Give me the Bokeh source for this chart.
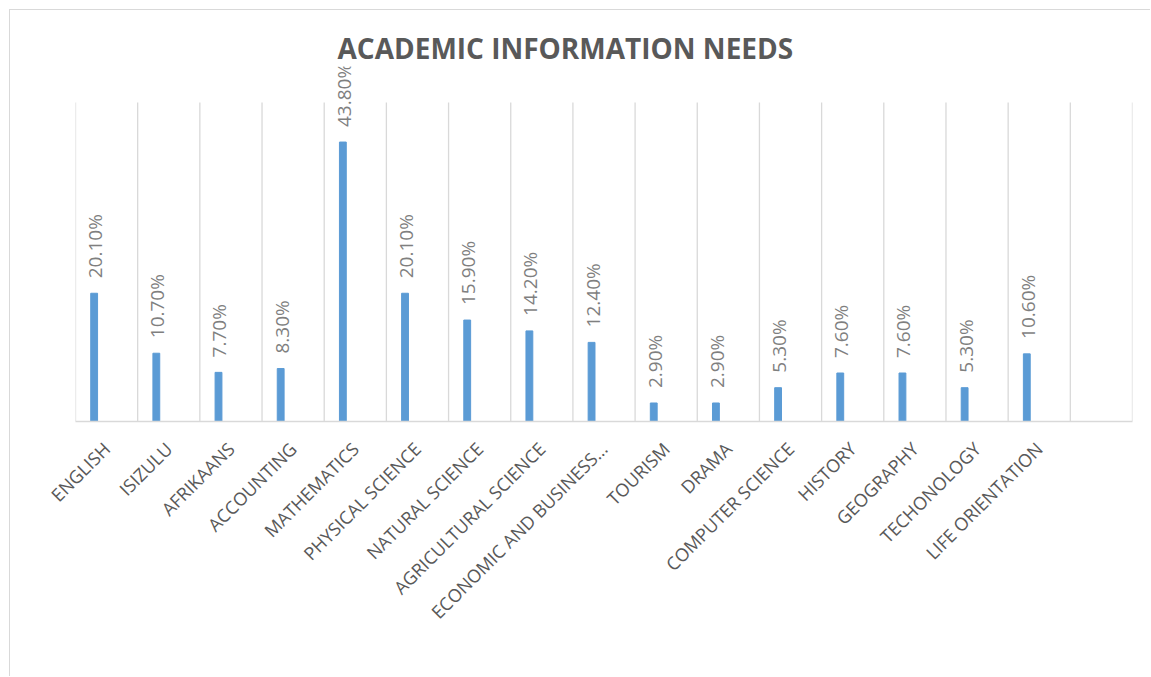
import math
from bokeh.plotting import figure
from bokeh.models import Range1d, FixedTicker, ColumnDataSource, LabelSet, Title
from bokeh.core.properties import value
from bokeh.embed import file_html
from bokeh.resources import INLINE

# ---- data ----
categories = ["English", "Isizulu", "Afrikaans", "Accounting", "Mathematics",
              "Physical Science", "Natural Science", "Agricultural Science",
              "Economic and Business...", "Tourism", "Drama", "Computer Science",
              "History", "Geography", "Techonology", "Life Orientation"]
values = [20.1, 10.7, 7.7, 8.3, 43.8, 20.1, 15.9, 14.2, 12.4, 2.9, 2.9, 5.3,
          7.6, 7.6, 5.3, 10.6]
title_text = "ACADEMIC INFORMATION NEEDS"

n_slots = len(categories) + 1  # chart keeps one empty slot at the end
axis_max = 50                  # value axis maximum (grid lines stop here)
bar_pos = 0.3
bar_width = 0.11

idx = list(range(len(categories)))
src = ColumnDataSource(dict(
    x=[i + bar_pos for i in idx],
    top=values,
    label=[f"{v:.2f}%" for v in values],
))
bounds = list(range(n_slots + 1))
grid_src = ColumnDataSource(dict(x=bounds, y0=[0] * len(bounds), y1=[axis_max] * len(bounds)))

# frame is taller than the value axis so the top data label is not clipped
p = figure(width=1141, height=667, output_backend="svg", toolbar_location=None,
           x_range=Range1d(0, n_slots), y_range=Range1d(0, axis_max * 355 / 319),
           min_border_left=65, min_border_right=19, min_border_top=56,
           min_border_bottom=256, title=None)
p.margin = (9, 0, 0, 9)
p.styles = {"border-left": "1px solid #d9d9d9", "border-top": "1px solid #d9d9d9"}
p.outline_line_color = None
p.background_fill_color = "white"
p.border_fill_color = "white"

t = Title(text=title_text, align="left", text_font="Open Sans",
          text_font_size="28px", text_font_style="bold", text_color="#595959",
          offset=262, standoff=-1)
p.add_layout(t, "above")

# vertical category separators (grid)
p.segment(x0="x", y0="y0", x1="x", y1="y1", source=grid_src,
          line_color="#d9d9d9", line_width=1.3)

p.vbar(x="x", top="top", width=bar_width, source=src, color="#5B9BD5")

labels = LabelSet(x="x", y="top", text="label", source=src, angle=math.pi / 2,
                  text_align="left", text_baseline="middle", y_offset=15,
                  x_offset=1, text_font=value("Open Sans"), text_font_size="19px",
                  text_color="#7f7f7f")
p.add_layout(labels)

# x axis: labels at slot centres
p.xaxis.ticker = FixedTicker(ticks=[i + 0.5 for i in idx])
p.xaxis.major_label_overrides = {i + 0.5: c.upper() for i, c in zip(idx, categories)}
p.xaxis.major_label_orientation = math.pi / 4
p.xaxis.major_label_text_font = "Open Sans"
p.xaxis.major_label_text_font_size = "18px"
p.xaxis.major_label_text_color = "#595959"
p.xaxis.major_label_standoff = 18
p.xaxis.major_tick_line_color = None
p.xaxis.minor_tick_line_color = None
p.xaxis.axis_line_color = "#d9d9d9"
p.xaxis.axis_line_width = 1.5

p.xgrid.grid_line_color = None
p.ygrid.grid_line_color = None
p.yaxis.visible = False

open("out.html", "w").write(file_html(p, INLINE))
